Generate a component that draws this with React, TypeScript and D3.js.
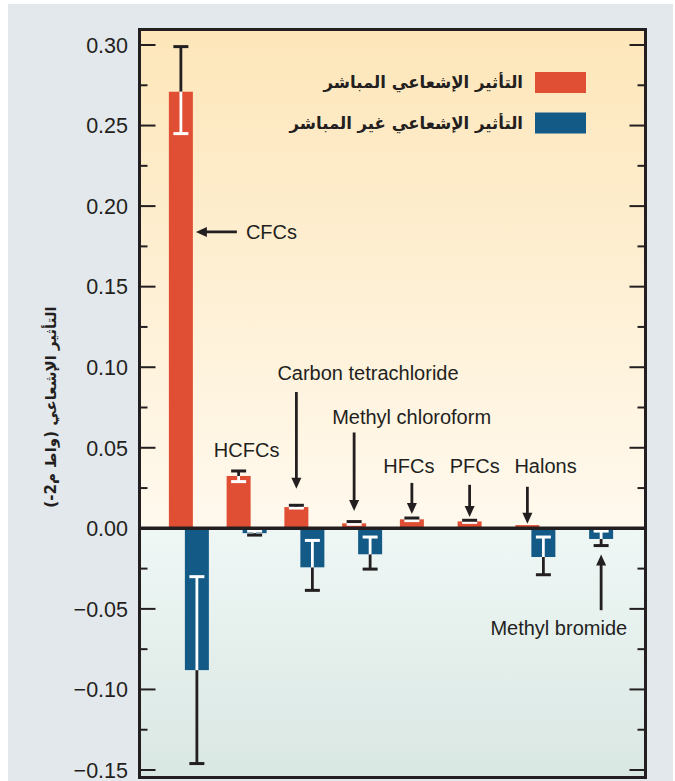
import React from "react";
import * as d3 from "d3";

// Radiative forcing by halocarbon group (W m-2)
const categories = [
  "CFCs",
  "HCFCs",
  "Carbon tetrachloride",
  "Methyl chloroform",
  "HFCs",
  "PFCs",
  "Halons",
  "Methyl bromide",
];

// Direct forcing with its uncertainty range
const directValues = [0.271, 0.0325, 0.0132, 0.0031, 0.0056, 0.0043, 0.002, 0];
const directLow = [0.245, 0.029, 0.0126, 0.0025, 0.0048, 0.0037, null, null];
const directHigh = [0.299, 0.0356, 0.0143, 0.0042, 0.0064, 0.005, null, null];

// Indirect forcing (ozone depletion) with its uncertainty range
const indirectValues = [-0.088, -0.003, -0.0242, -0.0161, 0, 0, -0.0178, -0.0066];
const indirectLow = [-0.146, -0.0042, -0.0385, -0.0253, null, null, -0.0288, -0.0107];
const indirectHigh = [-0.03, -0.0017, -0.0075, -0.0054, null, null, -0.0054, -0.0017];

const yTicks = [-0.15, -0.1, -0.05, 0, 0.05, 0.1, 0.15, 0.2, 0.25, 0.3];
const yMinorTicks = [-0.125, -0.075, -0.025, 0.025, 0.075, 0.125, 0.175, 0.225, 0.275];

const legendLabels = ["التأثير الإشعاعي المباشر", "التأثير الإشعاعي غير المباشر"];
const yAxisTitle = "التأثير الإشعاعي (واط م\u2066-2\u2069)";

const RED = "#e04f33";
const BLUE = "#135a87";
const INK = "#231f20";

type Annot = {
  cat: string;
  text: string;
  series: "direct" | "indirect";
  anchor: "start" | "middle" | "end";
  dx: number; // text offset from mark centre
  textAt: number; // text centre, in data units
  from?: number; // arrow start, in data units (vertical arrows)
  to?: number; // arrow tip, in data units
  side?: boolean; // horizontal arrow to bar edge
};

const annotations: Annot[] = [
  { cat: "CFCs", text: "CFCs", series: "direct", anchor: "start", dx: 65, textAt: 0.184, side: true },
  { cat: "HCFCs", text: "HCFCs", series: "direct", anchor: "middle", dx: 8, textAt: 0.0487 },
  { cat: "Carbon tetrachloride", text: "Carbon tetrachloride", series: "direct", anchor: "start", dx: -19, textAt: 0.0965, from: 0.0846, to: 0.0245 },
  { cat: "Methyl chloroform", text: "Methyl chloroform", series: "direct", anchor: "start", dx: -22, textAt: 0.069, from: 0.0595, to: 0.0108 },
  { cat: "HFCs", text: "HFCs", series: "direct", anchor: "middle", dx: -3, textAt: 0.0387, from: 0.0282, to: 0.0089 },
  { cat: "PFCs", text: "PFCs", series: "direct", anchor: "middle", dx: 5, textAt: 0.0387, from: 0.027, to: 0.0071 },
  { cat: "Halons", text: "Halons", series: "direct", anchor: "start", dx: -13, textAt: 0.0387, from: 0.0258, to: 0.0028 },
  { cat: "Methyl bromide", text: "Methyl bromide", series: "indirect", anchor: "end", dx: 26, textAt: -0.062, from: -0.0508, to: -0.0163 },
];

const fmt = (v: number) => (v < 0 ? "\u2212" : "") + d3.format(".2f")(Math.abs(v));

export default function App() {
  const W = 675;
  const H = 781;
  const frame = { left: 139.5, right: 645.5, top: 29.5, bottom: 777.5 };

  const y = d3.scaleLinear().domain([-0.15, 0.3]).range([770, 45]);
  const x = d3.scaleBand<string>().domain(categories).range([160, 622]);
  const barW = 24;
  const offset = 8;
  const center = (c: string) => (x(c) as number) + x.bandwidth() / 2;
  const redX = (c: string) => center(c) - offset;
  const blueX = (c: string) => center(c) + offset;
  const y0 = y(0);

  const errorBar = (
    key: string,
    cx: number,
    v: number,
    lo: number | null,
    hi: number | null
  ) => {
    if (lo == null || hi == null) return null;
    const bMin = Math.min(0, v);
    const bMax = Math.max(0, v);
    const inLo = Math.max(lo, bMin);
    const inHi = Math.min(hi, bMax);
    const parts: React.ReactNode[] = [];
    // outside portions in dark ink
    if (hi > bMax) parts.push(<line key="oh" x1={cx} x2={cx} y1={y(Math.max(lo, bMax))} y2={y(hi)} stroke={INK} strokeWidth={2.8} />);
    if (lo < bMin) parts.push(<line key="ol" x1={cx} x2={cx} y1={y(Math.min(hi, bMin))} y2={y(lo)} stroke={INK} strokeWidth={2.8} />);
    // inside portion in white
    if (inHi > inLo) parts.push(<line key="in" x1={cx} x2={cx} y1={y(inLo)} y2={y(inHi)} stroke="#fff" strokeWidth={2.8} />);
    const capColor = (val: number) => (val >= bMin && val <= bMax ? "#fff" : INK);
    parts.push(<line key="cl" x1={cx - 7.5} x2={cx + 7.5} y1={y(lo)} y2={y(lo)} stroke={capColor(lo)} strokeWidth={3} />);
    parts.push(<line key="ch" x1={cx - 7.5} x2={cx + 7.5} y1={y(hi)} y2={y(hi)} stroke={capColor(hi)} strokeWidth={3} />);
    return <g key={key}>{parts}</g>;
  };

  const arrowHead = (tx: number, ty: number, dir: "down" | "up" | "left") => {
    const L = 11;
    const hw = 5;
    let pts: [number, number][];
    if (dir === "down") pts = [[tx, ty], [tx - hw, ty - L], [tx + hw, ty - L]];
    else if (dir === "up") pts = [[tx, ty], [tx - hw, ty + L], [tx + hw, ty + L]];
    else pts = [[tx, ty], [tx + L, ty - hw], [tx + L, ty + hw]];
    return <polygon points={pts.map((p) => p.join(",")).join(" ")} fill={INK} />;
  };

  const labelFont = "'Liberation Sans', Arial, Helvetica, sans-serif";
  const arabicFont = "'DejaVu Sans', sans-serif";

  return (
    <svg
      width={W}
      height={H}
      style={{ position: "absolute", left: 0, top: 0, display: "block" }}
    >
      <defs>
        <linearGradient id="posBg" x1="0" y1="0" x2="0" y2="1">
          <stop offset="0" stopColor="#fde6b9" />
          <stop offset="1" stopColor="#fff9ee" />
        </linearGradient>
        <linearGradient id="negBg" x1="0" y1="0" x2="0" y2="1">
          <stop offset="0" stopColor="#eff7f5" />
          <stop offset="1" stopColor="#d9e7e3" />
        </linearGradient>
      </defs>
      <rect x={0} y={0} width={W} height={H} fill="#fff" />
      <rect x={8} y={4} width={665} height={777} fill="#e3e8ec" />

      {/* plot backgrounds */}
      <rect x={frame.left} y={frame.top} width={frame.right - frame.left} height={y0 - frame.top} fill="url(#posBg)" />
      <rect x={frame.left} y={y0} width={frame.right - frame.left} height={frame.bottom - y0} fill="url(#negBg)" />

      {/* bars */}
      {categories.map((c, i) => {
        const v = directValues[i];
        if (v === 0) return null;
        return <rect key={"d" + c} x={redX(c) - barW / 2} y={y(v)} width={barW} height={y0 - y(v)} fill={RED} />;
      })}
      {categories.map((c, i) => {
        const v = indirectValues[i];
        if (v === 0) return null;
        return <rect key={"i" + c} x={blueX(c) - barW / 2} y={y0} width={barW} height={y(v) - y0} fill={BLUE} />;
      })}

      {/* error bars */}
      {categories.map((c, i) => errorBar("ed" + c, redX(c), directValues[i], directLow[i], directHigh[i]))}
      {categories.map((c, i) => errorBar("ei" + c, blueX(c), indirectValues[i], indirectLow[i], indirectHigh[i]))}

      {/* zero line */}
      <line x1={frame.left} x2={frame.right} y1={y0} y2={y0} stroke={INK} strokeWidth={3.5} />

      {/* ticks on both vertical axes */}
      {yTicks.map((t) => (
        <g key={"t" + t}>
          <line x1={frame.left} x2={frame.left + 16} y1={y(t)} y2={y(t)} stroke={INK} strokeWidth={2} />
          <line x1={frame.right - 16} x2={frame.right} y1={y(t)} y2={y(t)} stroke={INK} strokeWidth={2} />
          <text
            x={128}
            y={y(t)}
            dy="0.36em"
            textAnchor="end"
            fontFamily={labelFont}
            fontSize={21.5}
            fill={INK}
          >
            {fmt(t)}
          </text>
        </g>
      ))}
      {yMinorTicks.map((t) => (
        <g key={"m" + t}>
          <line x1={frame.left} x2={frame.left + 8} y1={y(t)} y2={y(t)} stroke={INK} strokeWidth={2} />
          <line x1={frame.right - 8} x2={frame.right} y1={y(t)} y2={y(t)} stroke={INK} strokeWidth={2} />
        </g>
      ))}

      {/* frame */}
      <rect
        x={frame.left}
        y={frame.top}
        width={frame.right - frame.left}
        height={frame.bottom - frame.top}
        fill="none"
        stroke={INK}
        strokeWidth={3}
      />

      {/* annotations */}
      {annotations.map((a) => {
        const i = categories.indexOf(a.cat);
        const mx = a.series === "direct" ? redX(a.cat) : blueX(a.cat);
        const ty = y(a.textAt);
        const nodes: React.ReactNode[] = [];
        nodes.push(
          <text
            key="t"
            x={mx + a.dx}
            y={ty}
            dy="0.36em"
            textAnchor={a.anchor}
            fontFamily={labelFont}
            fontSize={20}
            fill={INK}
          >
            {a.text}
          </text>
        );
        if (a.side) {
          const tipX = mx + barW / 2 + 3;
          nodes.push(<line key="l" x1={mx + a.dx - 9} x2={tipX + 8} y1={ty} y2={ty} stroke={INK} strokeWidth={2.8} />);
          nodes.push(<g key="h">{arrowHead(tipX, ty, "left")}</g>);
        } else if (a.from != null && a.to != null) {
          const up = a.to > a.from;
          const y1 = y(a.from);
          const y2 = y(a.to);
          nodes.push(<line key="l" x1={mx} x2={mx} y1={y1} y2={up ? y2 + 8 : y2 - 8} stroke={INK} strokeWidth={2.8} />);
          nodes.push(<g key="h">{arrowHead(mx, y2, up ? "up" : "down")}</g>);
        }
        return <g key={"a" + i}>{nodes}</g>;
      })}

      {/* legend */}
      {legendLabels.map((lab, i) => (
        <g key={"lg" + i} transform={`translate(0, ${82.5 + i * 40.5})`}>
          <rect x={535} y={-10.5} width={51} height={21} fill={i === 0 ? RED : BLUE} />
          <text
            x={523}
            y={0}
            dy="0.35em"
            textAnchor="end"
            fontFamily={arabicFont}
            fontWeight="bold"
            fontSize={16.5}
            fill={INK}
          >
            {lab}
          </text>
        </g>
      ))}

      {/* y-axis title */}
      <text
        transform={`translate(51, 407) rotate(-90)`}
        textAnchor="middle"
        dy="0.35em"
        fontFamily={arabicFont}
        fontWeight="bold"
        fontSize={15}
        fill={INK}
      >
        {yAxisTitle}
      </text>
    </svg>
  );
}
